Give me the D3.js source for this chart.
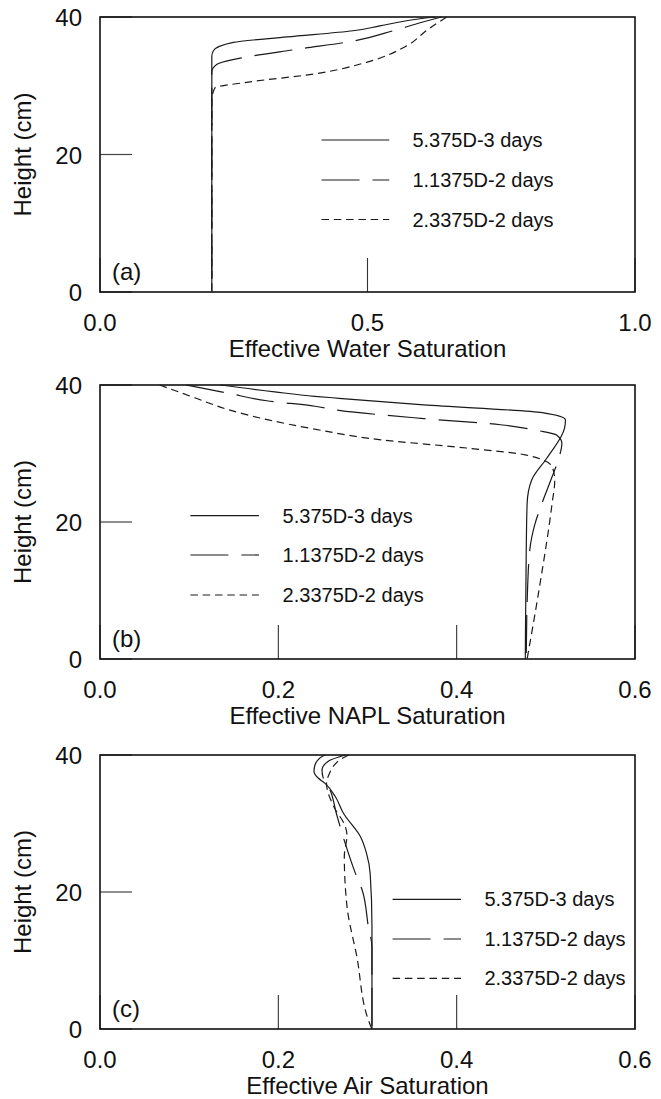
<!DOCTYPE html>
<html><head><meta charset="utf-8">
<script src="https://cdn.jsdelivr.net/npm/d3@7"></script>
<style>
html,body{margin:0;padding:0;background:#fff;}
svg{display:block;font-family:"Liberation Sans",Arial,sans-serif;}
</style></head>
<body>
<svg id="chart" width="661" height="1099"></svg>
<script>
// ---------- data: [saturation, height(cm)] ----------
const seriesNames = ["5.375D-3 days", "1.1375D-2 days", "2.3375D-2 days"];
const heightTicks = [0, 20, 40];
const waterTicks = [0, 0.5, 1.0];
const naplTicks = [0, 0.2, 0.4, 0.6];
const airTicks = [0, 0.2, 0.4, 0.6];

const waterT1 = [[0.209,0],[0.209,34.3],[0.212,35.1],[0.249,36.3],[0.35,37.1],[0.473,38.0],[0.523,38.7],[0.585,39.6],[0.626,40]];
const waterT2 = [[0.209,0],[0.209,32.0],[0.218,33.1],[0.255,33.9],[0.368,35.3],[0.473,36.5],[0.548,38.0],[0.600,39.2],[0.638,40]];
const waterT3 = [[0.209,0],[0.209,28.0],[0.215,29.7],[0.274,30.5],[0.399,31.7],[0.498,33.4],[0.573,35.8],[0.613,38.2],[0.648,40]];

const naplT1 = [[0.477,0],[0.478,15.5],[0.479,22.7],[0.484,26.1],[0.501,29.3],[0.521,33.7],[0.522,34.9],[0.496,35.96],[0.363,37.1],[0.268,38.06],[0.241,38.35],[0.196,39.0],[0.135,40]];
const naplT2 = [[0.478,0],[0.479,8.1],[0.482,15.9],[0.488,19.8],[0.495,22.5],[0.507,26.6],[0.515,29.5],[0.518,31.5],[0.512,32.7],[0.493,33.3],[0.449,34.2],[0.363,35.1],[0.268,36.3],[0.241,36.9],[0.187,37.7],[0.144,38.8],[0.097,40]];
const naplT3 = [[0.479,0],[0.493,10.6],[0.507,22.7],[0.510,26.1],[0.507,28.1],[0.477,29.8],[0.411,30.8],[0.315,32.0],[0.239,33.6],[0.189,34.9],[0.144,36.4],[0.107,38.1],[0.067,40]];

const airT1 = [[0.305,0],[0.305,15],[0.303,22.7],[0.299,25.6],[0.292,28.1],[0.273,31.5],[0.264,33.9],[0.252,35.9],[0.245,36.6],[0.240,37.6],[0.241,38.5],[0.250,39.85],[0.253,40]];
const airT2 = [[0.305,0],[0.305,12],[0.301,14.9],[0.294,20.3],[0.288,22.2],[0.275,27.1],[0.265,31.5],[0.258,34.9],[0.250,36.8],[0.249,37.8],[0.256,39.1],[0.275,40]];
const airT3 = [[0.305,0],[0.301,1.3],[0.288,10.6],[0.277,17.9],[0.274,25.2],[0.277,28.3],[0.275,29.6],[0.262,32.5],[0.254,35.9],[0.257,37.2],[0.262,38.4],[0.268,39.2],[0.279,40]];

// ---------- layout ----------
const svg = d3.select("#chart");
const L = 100, R = 635;
const dashes = [null, "38,13", "7.5,4.8"];

const panels = [
  {top:17, bottom:292, xmax:1.0, ticks:waterTicks, fmt:d3.format(".1f"), title:"Effective Water Saturation", label:"(a)",
   series:[waterT1,waterT2,waterT3], legX:[321.5,389.2,412.4], legY:[140,180,219.5]},
  {top:385, bottom:659, xmax:0.6, ticks:naplTicks, fmt:d3.format(".1f"), title:"Effective NAPL Saturation", label:"(b)",
   series:[naplT1,naplT2,naplT3], legX:[190.4,258.9,282.6], legY:[515.7,555,595]},
  {top:755, bottom:1029, xmax:0.6, ticks:airTicks, fmt:d3.format(".1f"), title:"Effective Air Saturation", label:"(c)",
   series:[airT1,airT2,airT3], legX:[392.6,461,484.4], legY:[899.3,939,978.3]}
];

panels.forEach(p => {
  const x = d3.scaleLinear().domain([0, p.xmax]).range([L, R]);
  const y = d3.scaleLinear().domain([0, 40]).range([p.bottom, p.top]);
  const g = svg.append("g");

  // inner ticks
  g.selectAll(".yt").data(heightTicks).enter().append("line")
    .attr("x1", L).attr("x2", L + 32).attr("y1", d => y(d)).attr("y2", d => y(d))
    .attr("stroke", "#444").attr("stroke-width", 1.2);
  g.selectAll(".xt").data(p.ticks).enter().append("line")
    .attr("x1", d => x(d)).attr("x2", d => x(d)).attr("y1", p.bottom).attr("y2", p.bottom - 34)
    .attr("stroke", "#333").attr("stroke-width", 1.1);

  // frame
  g.append("rect").attr("x", L).attr("y", p.top).attr("width", R - L).attr("height", p.bottom - p.top)
    .attr("fill", "none").attr("stroke", "#111").attr("stroke-width", 1.6);

  // tick labels
  g.selectAll(".yl").data(heightTicks).enter().append("text")
    .attr("x", 82).attr("y", d => y(d) + 9).attr("text-anchor", "end")
    .attr("font-size", 24).attr("fill", "#111").text(d => d);
  g.selectAll(".xl").data(p.ticks).enter().append("text")
    .attr("x", d => x(d)).attr("y", p.bottom + 39).attr("text-anchor", "middle")
    .attr("font-size", 24).attr("fill", "#111").text(d => p.fmt(d));

  // axis titles
  g.append("text").attr("x", (L + R) / 2).attr("y", p.bottom + 65).attr("text-anchor", "middle")
    .attr("font-size", 24).attr("fill", "#111").text(p.title);
  g.append("text").attr("transform", `translate(31,${(p.top + p.bottom) / 2}) rotate(-90)`)
    .attr("text-anchor", "middle").attr("font-size", 24).attr("fill", "#111").text("Height (cm)");

  // panel label
  g.append("text").attr("x", 112).attr("y", p.bottom - 12).attr("font-size", 24).attr("fill", "#111").text(p.label);

  // curves
  const line = d3.line().x(d => x(d[0])).y(d => y(d[1])).curve(d3.curveMonotoneY);
  p.series.forEach((s, i) => {
    const pts = s.slice().sort((a, b) => b[1] - a[1]);
    g.append("path").attr("d", line(pts)).attr("fill", "none")
      .attr("stroke", "#1a1a1a").attr("stroke-width", 1.2)
      .attr("stroke-dasharray", dashes[i]);
  });

  // legend
  seriesNames.forEach((name, i) => {
    g.append("line").attr("x1", p.legX[0]).attr("x2", p.legX[1])
      .attr("y1", p.legY[i]).attr("y2", p.legY[i])
      .attr("stroke", "#1a1a1a").attr("stroke-width", 1.2).attr("stroke-dasharray", dashes[i]);
    g.append("text").attr("x", p.legX[2]).attr("y", p.legY[i] + 7)
      .attr("font-size", 20).attr("fill", "#111").text(name);
  });
});
</script>
</body></html>
